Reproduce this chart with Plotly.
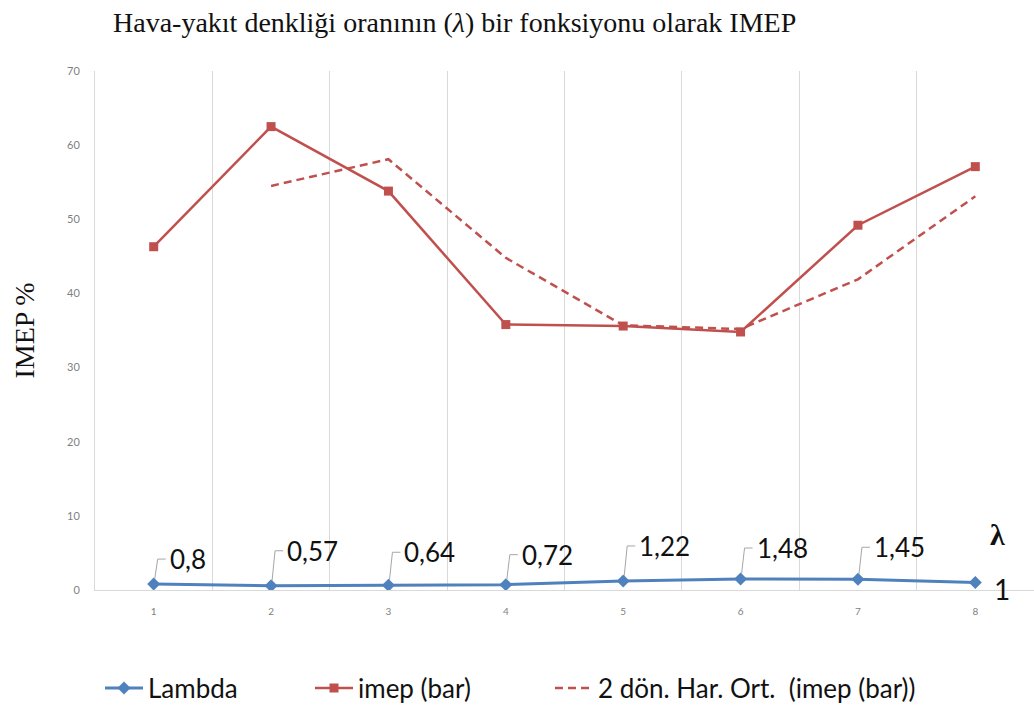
import plotly.graph_objects as go

# ---- data ----
categories = [1, 2, 3, 4, 5, 6, 7, 8]
lambda_vals = [0.8, 0.57, 0.64, 0.72, 1.22, 1.48, 1.45, 1]
imep_vals = [46.3, 62.5, 53.8, 35.8, 35.6, 34.8, 49.2, 57.1]
imep_ma = [None, 54.5, 58.1, 44.8, 35.7, 35.2, 41.9, 53.1]
y_ticks = [0, 10, 20, 30, 40, 50, 60, 70]

title_text = "Hava-yakıt denkliği oranının (<i>λ</i>) bir fonksiyonu olarak IMEP"
ytitle_text = "IMEP %"

# ---- styles ----
RED = "#C0504D"
BLUE = "#4F81BD"
GRID = "#d9d9d9"
LABEL_FONT = "Lato, 'Open Sans', sans-serif"
SERIF = "'Liberation Serif', 'Times New Roman', serif"
W, H = 1034, 711
# pixel offsets of the callout labels (height of leader)
label_heights = [25, 35, 33, 30, 35, 31, 32]

fig = go.Figure()

fig.add_trace(go.Scatter(
    x=categories, y=lambda_vals, name="Lambda", mode="lines+markers",
    line=dict(color=BLUE, width=3),
    marker=dict(symbol="diamond", size=10, color=BLUE),
    legend="legend",
))
fig.add_trace(go.Scatter(
    x=categories, y=imep_vals, name="imep (bar)", mode="lines+markers",
    line=dict(color=RED, width=2.5),
    marker=dict(symbol="square", size=9, color=RED),
    legend="legend2",
))
fig.add_trace(go.Scatter(
    x=categories, y=imep_ma, name="2 dön. Har. Ort.  (imep (bar))", mode="lines",
    line=dict(color=RED, width=2.5, dash="8px,5px"),
    connectgaps=False,
    legend="legend3",
))

annotations = []
shapes = []
for i, (c, v) in enumerate(zip(categories, lambda_vals)):
    txt = f"{v:g}".replace(".", ",")
    if i < len(label_heights):
        h = label_heights[i]
        shapes.append(dict(
            type="path", xref="x", yref="y",
            xsizemode="pixel", ysizemode="pixel", xanchor=c, yanchor=v,
            path=f"M 1,5 L 4,{h} L 12,{h}",
            line=dict(color="#a6a6a6", width=1),
        ))
        annotations.append(dict(
            x=c, y=v, xref="x", yref="y", text=txt, showarrow=False,
            xanchor="left", yanchor="middle", xshift=14, yshift=h,
            font=dict(family=LABEL_FONT, size=26, color="#111111"),
        ))
    else:
        annotations.append(dict(
            x=c, y=v, xref="x", yref="y", text=txt, showarrow=False,
            xanchor="center", yanchor="middle", xshift=27, yshift=-6,
            font=dict(family=LABEL_FONT, size=28, color="#111111"),
        ))
        annotations.append(dict(
            x=c, y=v, xref="x", yref="y", text="<b>λ</b>", showarrow=False,
            xanchor="center", yanchor="middle", xshift=22, yshift=48,
            font=dict(family=SERIF, size=30, color="#111111"),
        ))

annotations.append(dict(
    x=-71 / 939, y=0.5, xref="paper", yref="paper", text=ytitle_text,
    showarrow=False, textangle=-90, xanchor="center", yanchor="middle",
    font=dict(family=SERIF, size=28, color="#111111"),
))

legend_common = dict(orientation="h", yanchor="middle", xanchor="left",
                     xref="container", yref="container", itemwidth=38,
                     bgcolor="rgba(0,0,0,0)",
                     font=dict(family=LABEL_FONT, size=26, color="#111111"))
leg_y = 1 - 688 / H

fig.update_layout(
    width=W, height=H,
    showlegend=True,
    margin=dict(l=95, r=0, t=71, b=121),
    paper_bgcolor="white", plot_bgcolor="white",
    title=dict(text=title_text, x=113 / W, xanchor="left", xref="container",
               y=1 - 22 / H, yanchor="middle", yref="container",
               font=dict(family=SERIF, size=28, color="#111111")),
    xaxis=dict(range=[0.5, 8.5], tickvals=categories, ticktext=[str(c) for c in categories],
               showgrid=False, zeroline=False, showline=True, linecolor=GRID, linewidth=1,
               ticks="", ticklabelstandoff=12,
               tickfont=dict(family=LABEL_FONT, size=10, color="#7f7f7f"),
               minor=dict(tick0=0.5, dtick=1, showgrid=True, gridcolor=GRID, gridwidth=1, ticks="")),
    yaxis=dict(range=[0, 70], tickvals=y_ticks, showgrid=False, zeroline=False,
               showline=True, linecolor=GRID, linewidth=1, ticks="", ticklabelstandoff=12,
               tickfont=dict(family=LABEL_FONT, size=11, color="#7f7f7f")),
    legend=dict(x=100 / W, y=leg_y, **legend_common),
    legend2=dict(x=310 / W, y=leg_y, **legend_common),
    legend3=dict(x=550 / W, y=leg_y, **legend_common),
    annotations=annotations,
    shapes=shapes,
)

fig.write_html("out.html", config={"displayModeBar": False},
               post_script="document.body.style.margin='0';document.body.style.overflow='hidden';")
